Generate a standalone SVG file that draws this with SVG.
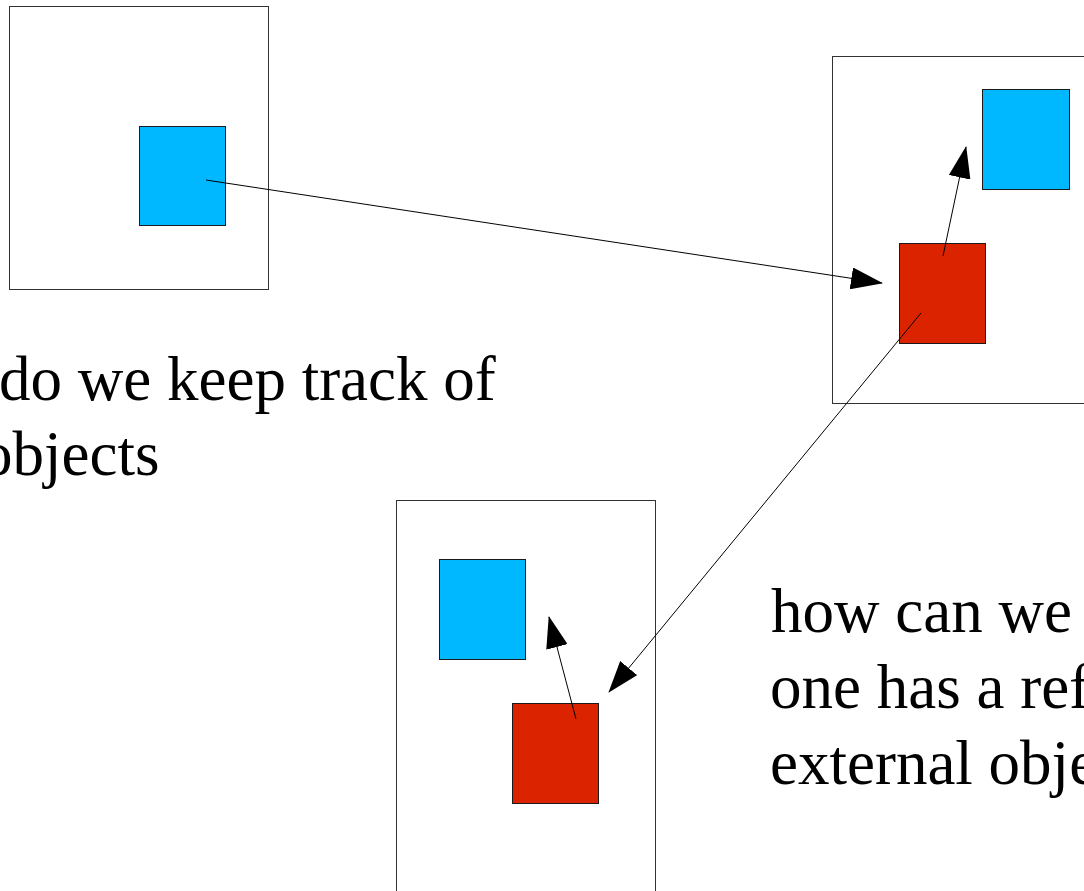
<svg xmlns="http://www.w3.org/2000/svg" width="1084" height="891" viewBox="0 0 1084 891">
  <defs>
    <marker id="arrow" markerUnits="userSpaceOnUse" markerWidth="32" markerHeight="22" refX="31" refY="11" orient="auto">
      <path d="M0,0 L32,11 L0,22 z" fill="#000"/>
    </marker>
    <style>
      .frame { fill: #fff; stroke: #333; stroke-width: 1; }
      .obj { stroke: #1a1a1a; stroke-width: 1; }
      .blue { fill: #00b8ff; }
      .red { fill: #dc2300; }
      .link { fill: none; stroke: #000; stroke-width: 1; marker-end: url(#arrow); }
      .label { font-family: "Liberation Serif", "Times New Roman", serif; font-size: 63px; fill: #000; }
    </style>
  </defs>

  <!-- first heap with a single object -->
  <g id="heap-a">
    <rect class="frame" x="9.5" y="6.5" width="259" height="283"/>
    <rect id="heap-a-obj" class="obj blue" x="139.5" y="126.5" width="86" height="99"/>
  </g>

  <!-- second heap: local object referring to the original -->
  <g id="heap-b">
    <rect class="frame" x="832.5" y="56.5" width="270" height="347"/>
    <rect id="heap-b-blue" class="obj blue" x="982.5" y="89.5" width="87" height="100"/>
    <rect id="heap-b-red" class="obj red" x="899.5" y="243.5" width="86" height="100"/>
  </g>

  <!-- third heap -->
  <g id="heap-c">
    <rect class="frame" x="396.5" y="500.5" width="259" height="410"/>
    <rect id="heap-c-blue" class="obj blue" x="439.5" y="559.5" width="86" height="100"/>
    <rect id="heap-c-red" class="obj red" x="512.5" y="703.5" width="86" height="100"/>
  </g>

  <!-- references between objects -->
  <g id="connectors">
    <line class="link" x1="206" y1="180" x2="882" y2="283"/>
    <line class="link" x1="943" y1="256" x2="966" y2="147"/>
    <line class="link" x1="921" y1="313" x2="609" y2="692"/>
    <line class="link" x1="576" y1="719" x2="549" y2="617"/>
  </g>

  <g id="caption-left">
    <text class="label" x="-1" y="400">do we keep track of</text>
    <text class="label" x="-19" y="475">objects</text>
  </g>

  <g id="caption-right">
    <text class="label" x="771" y="632">how can we</text>
    <text class="label" x="770" y="708">one has a ref</text>
    <text class="label" x="770" y="784">external obje</text>
  </g>
</svg>
